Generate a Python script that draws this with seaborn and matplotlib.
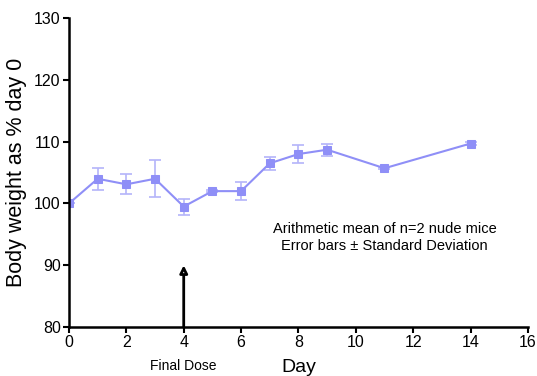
import matplotlib
matplotlib.use("Agg")
import matplotlib.pyplot as plt
import seaborn as sns
import numpy as np
import pandas as pd

days = [0, 1, 2, 3, 4, 5, 6, 7, 8, 9, 11, 14]
mean_weight = [100.0, 104.0, 103.1, 104.0, 99.5, 102.0, 102.0, 106.5, 108.0, 108.7, 105.7, 109.7]
sd_weight = [0.0, 1.8, 1.6, 3.0, 1.3, 0.2, 1.4, 1.1, 1.5, 1.0, 0.2, 0.3]

sns.set_style("ticks", {"text.color": "black", "axes.labelcolor": "black",
                        "xtick.color": "black", "ytick.color": "black",
                        "axes.edgecolor": "black"})
plt.rcParams['font.family'] = ['Liberation Sans', 'DejaVu Sans']

df = pd.DataFrame({"Day": days, "Weight": mean_weight, "SD": sd_weight})
color = "#8f8ff7"

fig = plt.figure(figsize=(5.37, 3.76), dpi=100)
ax = fig.add_axes([0.1285, 0.130, 0.8545, 0.822])

ax.errorbar(df["Day"], df["Weight"], yerr=df["SD"], fmt="none", ecolor="#b4b4fa",
            elinewidth=1.2, capsize=4, capthick=1.2, zorder=2)
sns.lineplot(data=df, x="Day", y="Weight", ax=ax, color=color, marker="s",
             markersize=6, markeredgecolor=color, linewidth=1.5, zorder=3)

ax.set_xlim(0, 16)
ax.set_ylim(80, 130)
ax.set_xticks(range(0, 17, 2))
ax.set_yticks(range(80, 131, 10))
ax.tick_params(axis="both", labelsize=11.5, width=1.5, length=4, color="black",
               labelcolor="black", pad=2)
for s in ["left", "bottom"]:
    ax.spines[s].set_linewidth(1.8)
    ax.spines[s].set_color("black")
sns.despine(ax=ax)
ax.spines["left"].set_zorder(5)

ax.set_xlabel("Day", fontsize=14, labelpad=6, color="black")
ax.set_ylabel("Body weight as % day 0", fontsize=15.5, labelpad=5, color="black")

ax.annotate("", xy=(4, 90), xytext=(4, 80),
            arrowprops=dict(arrowstyle="-|>", ec="black", fc="white", lw=2,
                            mutation_scale=11, shrinkA=0, shrinkB=0))
ax.text(4, -0.125, "Final Dose", transform=ax.get_xaxis_transform(),
        ha="center", va="center", fontsize=10, color="black")
ax.text(11, 95.8, "Arithmetic mean of n=2 nude mice", ha="center", va="center",
        fontsize=10.5, color="black")
ax.text(11, 93.2, "Error bars \u00b1 Standard Deviation", ha="center", va="center",
        fontsize=10.5, color="black")

fig.savefig("out.png", dpi=100)
